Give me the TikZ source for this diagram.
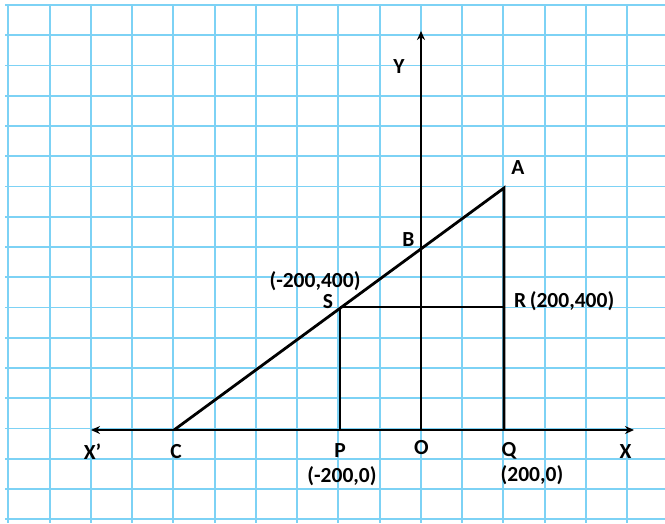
\documentclass[tikz,border=0pt]{standalone}
\usepackage{fontspec}
\setmainfont{Carlito}
\usetikzlibrary{arrows.meta}
\definecolor{gridblue}{RGB}{125,210,245}
\tikzset{
  gridline/.style={draw=gridblue, line width=1.9pt},
  geo/.style={draw=black, line width=2.8pt},
  axisline/.style={draw=black, line width=2.8pt, -{Stealth[length=9pt,width=8pt]}},
  lbl/.style={font=\fontsize{21.5}{21.5}\selectfont\bfseries, inner sep=0pt, anchor=center}
}
\begin{document}
\begin{tikzpicture}[x=1pt,y=-1pt]
\useasboundingbox (0,0) rectangle (665,523);
\fill[white] (0,0) rectangle (665,523);
% grid
\foreach \i in {0,...,15} \draw[gridline] ({8.3+41.25*\i},5) -- ({8.3+41.25*\i},523);
\foreach \j in {0,...,17} \draw[gridline] (5,{5+30.25*\j}) -- (665,{5+30.25*\j});
% points
\coordinate (O) at (421,430);
\coordinate (C) at (174,430);
\coordinate (P) at (340,430);
\coordinate (Q) at (504,430);
\coordinate (A) at (504,188);
\coordinate (S) at (340,307);
\coordinate (R) at (504,307);
\coordinate (Xr) at (634,430);
\coordinate (Xl) at (91,430);
\coordinate (Yt) at (421,31);
% axes
\draw[axisline] (O) -- (Xr);
\draw[axisline] (O) -- (Xl);
\draw[axisline] (O) -- (Yt);
% figure
\draw[geo, line join=miter] (C) -- (A) -- (Q);
\draw[geo] (S) -- (R);
\draw[geo] (S) -- (P);
% labels
\node[lbl] (lY) at (399,67) {Y};
\node[lbl] (lA) at (518,168) {A};
\node[lbl] (lB) at (408.5,239.5) {B};
\node[lbl] (lS1) at (315,281) {(-200,400)};
\node[lbl] (lS) at (328,301.5) {S};
\node[lbl, anchor=west] (lR) at (514,301) {R\,(200,400)};
\node[lbl] (lX1) at (92.5,451.5) {X’};
\node[lbl] (lC) at (176,451.5) {C};
\node[lbl] (lP) at (340,451) {P};
\node[lbl] (lO) at (421.5,447.5) {O};
\node[lbl] (lQ) at (509,450.5) {Q};
\node[lbl] (lX) at (625.5,451.5) {X};
\node[lbl] (lP1) at (342,476) {(-200,0)};
\node[lbl] (lQ1) at (532,475) {(200,0)};
\end{tikzpicture}
\end{document}
